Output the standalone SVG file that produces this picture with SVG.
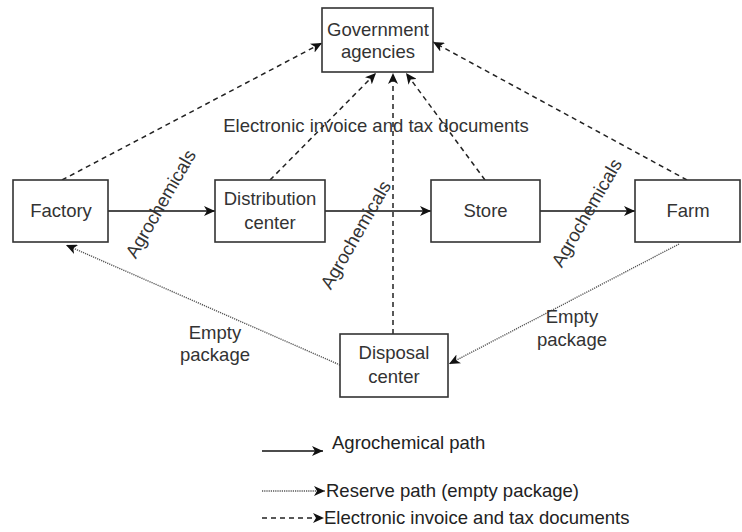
<svg xmlns="http://www.w3.org/2000/svg" width="742" height="532" viewBox="0 0 742 532">
<style>
.box{fill:#fff;stroke:#333;stroke-width:1.6}
.t{font-family:"Liberation Sans",Arial,sans-serif;font-size:18.5px;fill:#333;text-anchor:middle}
.tl{font-family:"Liberation Sans",Arial,sans-serif;font-size:18.5px;fill:#222;text-anchor:start}
.solid{fill:none;stroke:#111;stroke-width:1.6}
.dash{fill:none;stroke:#222;stroke-width:1.5;stroke-dasharray:5 4}
.dot{fill:none;stroke:#555;stroke-width:1.4;stroke-dasharray:1.2 1}
</style>
<defs>
<marker id="arr" markerUnits="userSpaceOnUse" markerWidth="12" markerHeight="10" viewBox="0 0 12 10" refX="11" refY="5" orient="auto">
<path d="M0,0 L11,5 L0,10 L3,5 z" fill="#111"/>
</marker>
</defs>
<g id="connectors">
<line class="solid" x1="108" y1="211" x2="215" y2="211" marker-end="url(#arr)"/>
<line class="solid" x1="325" y1="211" x2="431" y2="211" marker-end="url(#arr)"/>
<line class="solid" x1="540" y1="211" x2="635" y2="211" marker-end="url(#arr)"/>
<line class="dash" x1="62" y1="180" x2="322" y2="43" marker-end="url(#arr)"/>
<line class="dash" x1="270" y1="180" x2="376" y2="73" marker-end="url(#arr)"/>
<line class="dash" x1="393" y1="334" x2="393" y2="73" marker-end="url(#arr)"/>
<line class="dash" x1="485" y1="180" x2="406" y2="73" marker-end="url(#arr)"/>
<line class="dash" x1="687" y1="180" x2="433" y2="42" marker-end="url(#arr)"/>
<line class="dot" x1="679" y1="244" x2="449" y2="364" marker-end="url(#arr)"/>
<line class="dot" x1="340" y1="365" x2="66" y2="245" marker-end="url(#arr)"/>
<text class="t" x="376" y="132">Electronic invoice and tax documents</text>
<text class="t" transform="translate(161,204) rotate(-60)" y="6">Agrochemicals</text>
<text class="t" transform="translate(356,235) rotate(-60)" y="6">Agrochemicals</text>
<text class="t" transform="translate(587,213) rotate(-60)" y="6">Agrochemicals</text>
<text class="t" x="215" y="339">Empty</text>
<text class="t" x="215" y="361">package</text>
<text class="t" x="572" y="323">Empty</text>
<text class="t" x="572" y="346">package</text>
</g>
<g id="factory"><rect class="box" x="13" y="180" width="95" height="62"/><text class="t" x="61" y="217">Factory</text></g>
<g id="distribution"><rect class="box" x="215" y="180" width="110" height="62"/><text class="t" x="270" y="205">Distribution</text><text class="t" x="270" y="229">center</text></g>
<g id="store"><rect class="box" x="431" y="180" width="109" height="62"/><text class="t" x="485.5" y="217">Store</text></g>
<g id="farm"><rect class="box" x="635" y="180" width="105" height="62"/><text class="t" x="688" y="217">Farm</text></g>
<g id="government"><rect class="box" x="322" y="8" width="111" height="64"/><text class="t" x="378" y="36">Government</text><text class="t" x="378" y="58">agencies</text></g>
<g id="disposal"><rect class="box" x="340" y="334" width="108" height="63"/><text class="t" x="394" y="359">Disposal</text><text class="t" x="394" y="383">center</text></g>
<g id="legend">
<line class="solid" x1="262" y1="451" x2="323" y2="451" marker-end="url(#arr)"/>
<text class="tl" x="332" y="449">Agrochemical path</text>
<line class="dot" x1="262" y1="491" x2="325" y2="491" marker-end="url(#arr)"/>
<text class="tl" x="326" y="497">Reserve path (empty package)</text>
<line class="dash" x1="262" y1="518" x2="324" y2="518" marker-end="url(#arr)"/>
<text class="tl" x="324" y="524">Electronic invoice and tax documents</text>
</g>
</svg>
